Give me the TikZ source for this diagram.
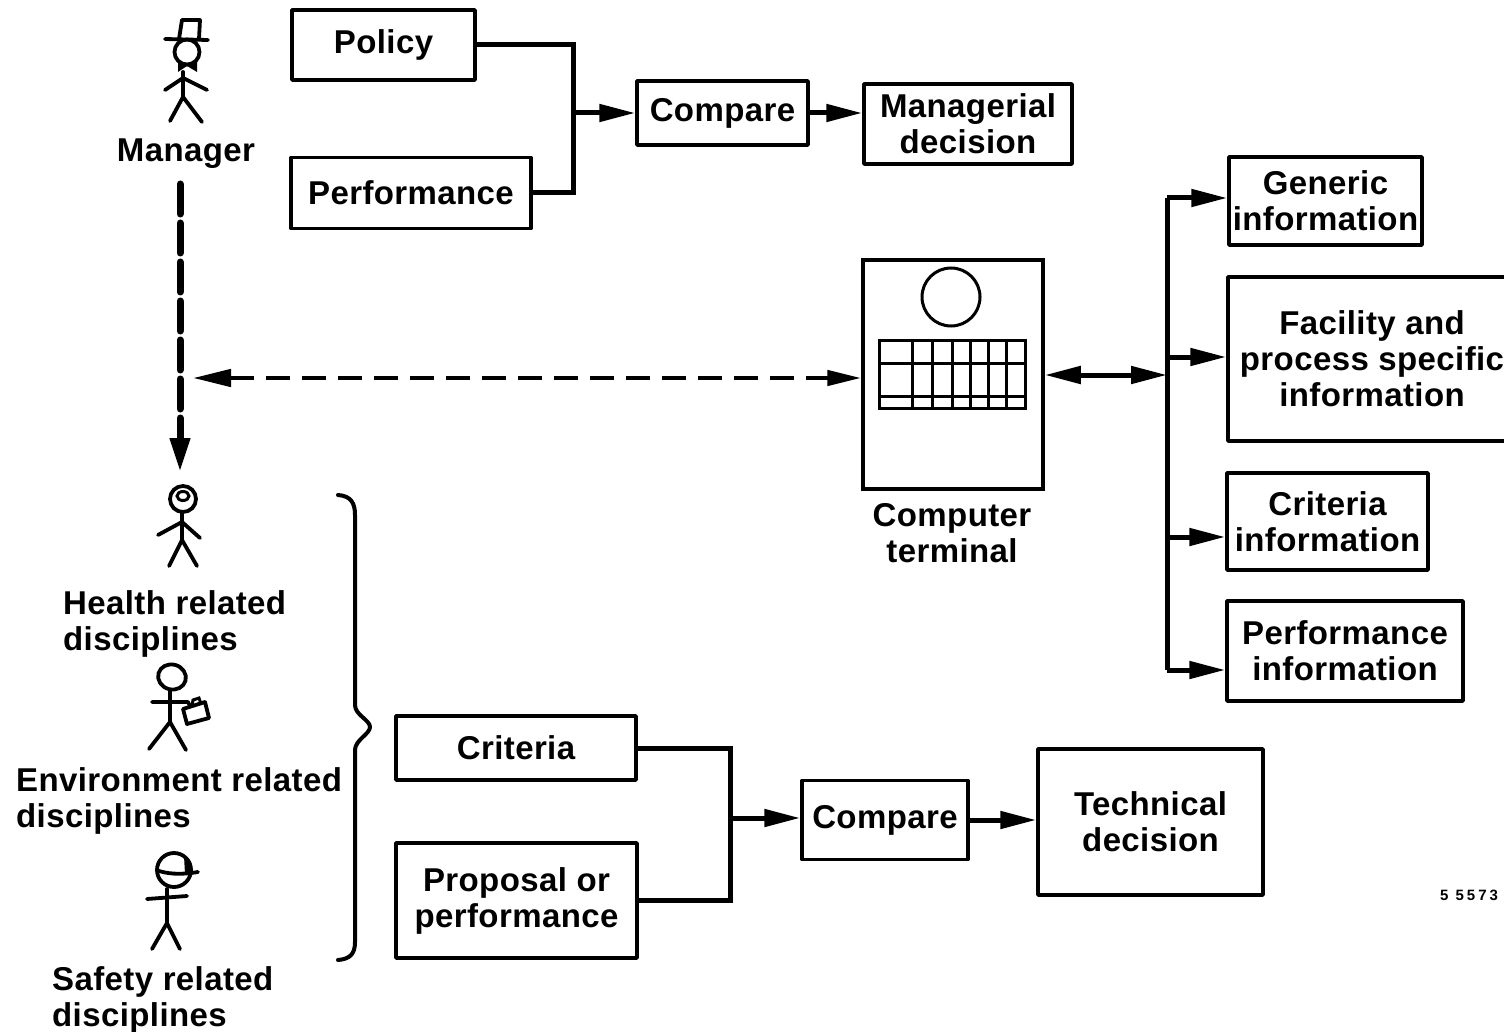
\documentclass[tikz,border=0pt]{standalone}
\usepackage{fontspec}
\setmainfont{Liberation Sans}
\newfontfamily\tagfont[LetterSpace=20]{Liberation Sans}
\usetikzlibrary{arrows.meta}
\begin{document}
\begin{tikzpicture}[x=1pt,y=-1pt,
  lbl/.style={font=\bfseries\fontsize{33}{36}\selectfont\addfontfeatures{LetterSpace=1.2}, inner sep=0pt, align=center},
  box/.style={lbl, draw, line width=3.5pt, line join=round},
  bus/.style={line width=5pt, line join=miter},
  tipA/.tip={Triangle[length=36pt,width=17pt]},
  arr/.style={line width=5pt, -tipA},
  darr/.style={line width=5pt, tipA-tipA},
  dashv/.style={line width=7pt, line cap=round, dash pattern=on 30pt off 9pt, -{Triangle[length=34pt,width=19pt]}},
  dashh/.style={line width=4.5pt, dash pattern=on 24pt off 12pt,
                {Triangle[length=38pt,width=17pt]}-{Triangle[length=34pt,width=15pt]}},
  figline/.style={line width=3.8pt, line cap=round, line join=round},
]
\useasboundingbox (0,0) rectangle (1504,1032);
\clip (0,0) rectangle (1504,1032);

% ---------- managerial loop ----------
\node[box, minimum width=183pt, minimum height=70pt] (policy) at (383.5,45) {Policy};
\node[box, minimum width=240pt, minimum height=71pt] (perf) at (411,193) {Performance};
\node[box, minimum width=171pt, minimum height=64pt] (cmpA) at (722.5,113) {Compare};
\node[box, minimum width=208pt, minimum height=80pt] (mgr) at (968,124) {Managerial\\decision};
\coordinate (jA) at (573,113);
\draw[bus] (policy.east) -| (jA) |- (perf.east);
\draw[arr] (jA) -- (cmpA.west);
\draw[arr] (cmpA.east) -- (cmpA.east -| mgr.west);

% ---------- technical loop ----------
\node[box, minimum width=240pt, minimum height=64pt] (crit) at (516,748) {Criteria};
\node[box, minimum width=241pt, minimum height=115pt] (prop) at (516.5,900.5) {Proposal or\\performance};
\node[box, minimum width=166pt, minimum height=79pt] (cmpB) at (885,820) {Compare};
\node[box, minimum width=225pt, minimum height=146pt] (tech) at (1150.5,822) {Technical\\decision};
\coordinate (jB) at (730,818);
\draw[bus] (crit.east) -| (jB) |- (prop.east);
\draw[arr] (jB) -- (jB -| cmpB.west);
\draw[arr] (cmpB.east) -- (cmpB.east -| tech.west);

% ---------- computer terminal ----------
\node[draw, line width=3.5pt, inner sep=0pt, minimum width=180pt, minimum height=229pt] (term) at (953,374.5) {};
\node[draw, circle, line width=3pt, inner sep=0pt, minimum size=58pt] (screen) at (951,297) {};
\node[draw, line width=3pt, inner sep=0pt, minimum width=146pt, minimum height=68pt] (keys) at (952,374) {};
\foreach \kx in {912,932,952,970,988,1006}
  \draw[line width=3pt] (\kx,340) -- (\kx,408);
\draw[line width=3pt] (879,363) -- (1025,363);
\draw[line width=3pt] (879,396) -- (1025,396);
\node[lbl] (termlbl) at (952,533) {Computer\\terminal};

% ---------- information sources ----------
\node[box, minimum width=193pt, minimum height=88pt] (generic) at (1325.5,201) {Generic\\information};
\node[box, minimum width=288pt, minimum height=164pt] (facility) at (1372,359) {Facility and\\process specific\\information};
\node[box, minimum width=201pt, minimum height=97pt] (critinfo) at (1327.5,521.5) {Criteria\\information};
\node[box, minimum width=236pt, minimum height=100pt] (perfinfo) at (1345,651) {Performance\\information};
\coordinate (bTop) at (1167,198);
\coordinate (bFac) at (1167,357);
\coordinate (bCrit) at (1167,537);
\coordinate (bBot) at (1167,670);
\coordinate (bMid) at (1167,375);
\draw[bus] (bTop) -- (bBot);
\draw[darr] (term.east |- bMid) -- (bMid);
\draw[arr] (bTop) -- (bTop -| generic.west);
\draw[arr] (bFac) -- (bFac -| facility.west);
\draw[arr] (bCrit) -- (bCrit -| critinfo.west);
\draw[arr] (bBot) -- (bBot -| perfinfo.west);

% ---------- people ----------
% manager with top hat and bow tie
\draw[figline] (182,20) -- (200,20) -- (199,39);
\draw[figline] (182,20) -- (179,39);
\draw[figline] (165,39) -- (208,40);
\draw[figline] (187,52) circle[radius=12.5pt];
\fill (187,66) -- (178,60) -- (178,72) -- cycle;
\fill (187,66) -- (197,60) -- (197,72) -- cycle;
\draw[figline] (183,72) -- (183,98);
\draw[figline] (165,90) -- (183,78) -- (207,90);
\draw[figline] (170,121) -- (183,97) -- (202,122);
\node[lbl] (mgrlbl) at (186,154) {Manager};

% health person with glasses
\draw[figline] (183,499) circle[radius=13pt];
\draw[line width=3pt] (183,496) ellipse[x radius=6pt, y radius=4.5pt];
\draw[figline] (182,512) -- (182,541);
\draw[figline] (158,535) -- (182,522) -- (200,538);
\draw[figline] (169,566) -- (182,540) -- (197,566);
\node[lbl, anchor=west, align=left] (healthlbl) at (63,624) {Health related\\disciplines};

% environment person with briefcase
\draw[figline, rotate around={-15:(172,677)}] (172,677) ellipse[x radius=14pt, y radius=12.5pt];
\draw[figline] (170,690) -- (170,722);
\draw[figline] (152,702) -- (188,702) -- (190,706);
\draw[figline] (183,709) -- (205,702) -- (209,718) -- (187,724) -- cycle;
\draw[line width=3pt] (192,706) -- (193,700) -- (199,698) -- (201,704);
\draw[figline] (149,749) -- (170,722) -- (186,750);
\node[lbl, anchor=west, align=left] (envlbl) at (16,801) {Environment related\\disciplines};

% safety person with hard hat
\draw[figline] (174,870) circle[radius=17pt];
\draw[figline] (159,871) .. controls (172,875) and (186,874) .. (198,872);
\fill (184,856) .. controls (190,857) and (193,863) .. (192,874) -- (185,874) -- cycle;
\draw[figline] (167,889) -- (167,923);
\draw[figline] (147,899) -- (187,896);
\draw[figline] (152,949) -- (167,923) -- (180,949);
\node[lbl, anchor=west, align=left] (safelbl) at (52,1000) {Safety related\\disciplines};

% ---------- links between people and the terminal ----------
\coordinate (mgrFoot) at (180,184);
\coordinate (healthTop) at (180,472);
\draw[dashv] (mgrFoot) -- (healthTop);
\coordinate (dashEnd) at (193,378);
\draw[dashh] (dashEnd) -- (dashEnd -| term.west);

% brace grouping the disciplines
\draw[line width=4pt, line cap=round, line join=round]
  (338,495) .. controls (351,496) and (355,503) .. (355,515)
  -- (355,705) .. controls (355,715) and (370,720) .. (370,727)
  .. controls (370,734) and (355,740) .. (355,750)
  -- (355,942) .. controls (355,954) and (350,959) .. (338,960);

% drawing number
\node[font=\tagfont\bfseries\fontsize{15}{17}\selectfont, inner sep=0pt] (tag) at (1469,895) {5 5573};
\end{tikzpicture}
\end{document}
